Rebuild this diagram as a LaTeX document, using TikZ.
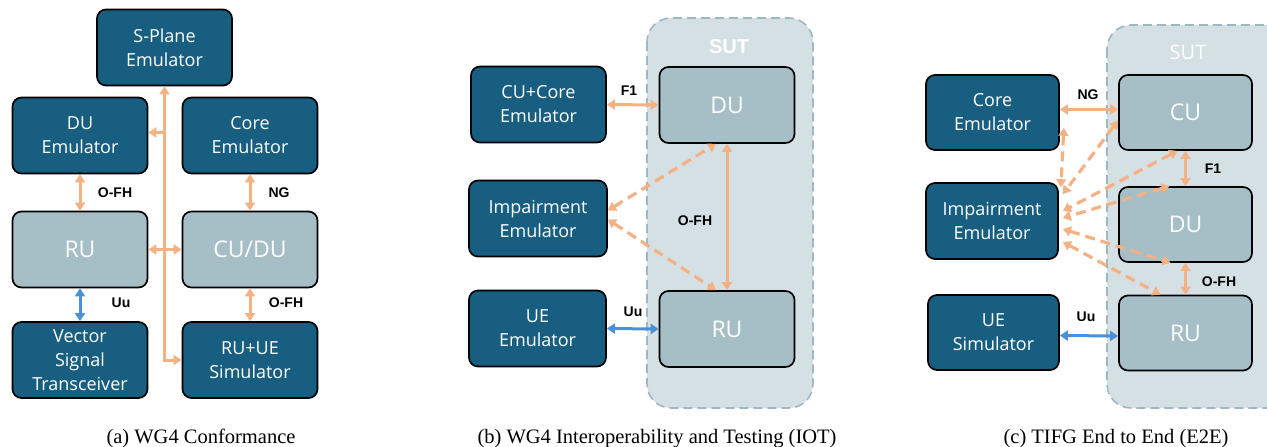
\documentclass[tikz,border=0pt]{standalone}
\usepackage{fontspec}
\newfontfamily\boxfont{Open Sans}
\newfontfamily\lblfont{Liberation Sans}
\newfontfamily\capfont{Liberation Serif}
\usetikzlibrary{arrows.meta}
\definecolor{emublue}{RGB}{23,94,128}
\definecolor{dutblue}{RGB}{166,190,198}
\definecolor{sutfill}{RGB}{213,224,229}
\definecolor{sutline}{RGB}{158,184,194}
\definecolor{linkorange}{RGB}{244,177,131}
\definecolor{uublue}{RGB}{74,144,217}
\begin{document}
\begin{tikzpicture}[x=1pt,y=-1pt,>={Triangle[length=8pt,width=10pt]},
    emu/.style={draw=black,line width=1.7pt,rounded corners=9pt,fill=emublue,text=white,
      align=center,minimum width=135pt,minimum height=76pt,inner sep=0pt,
      font=\boxfont\fontsize{18}{24}\selectfont},
    dut/.style={emu,fill=dutblue,font=\boxfont\fontsize{23}{28}\selectfont},
    sut/.style={draw=sutline,fill=sutfill,line width=1.6pt,dash pattern=on 9pt off 5pt,rounded corners=24pt},
    link/.style={draw=linkorange,line width=3pt,<->},
    dlink/.style={link,line width=3.2pt,dash pattern=on 10pt off 6pt},
    uu/.style={link,draw=uublue},
    lbl/.style={font=\lblfont\bfseries\fontsize{14}{16}\selectfont},
    subcap/.style={anchor=base,font=\capfont\fontsize{20.5}{24}\selectfont}]
  \useasboundingbox (0,0) rectangle (1267,447);
  % (a) WG4 conformance
  \node[emu] (splane) at (164.5,47.5) {S-Plane\\Emulator};
  \node[emu] (duemu) at (80,135.5) {DU\\Emulator};
  \node[emu] (coreemu) at (250,135.5) {Core\\Emulator};
  \node[dut] (rua) at (80,249.5) {RU};
  \node[dut] (cudu) at (250,249.5) {CU/DU};
  \node[emu] (vst) at (80,360) {Vector\\Signal\\Transceiver};
  \node[emu] (ruue) at (250,360) {RU+UE\\Simulator};
  \draw[link] (splane.south) |- (ruue.west);
  \draw[link,->] ([yshift=3pt]splane.south |- duemu.east) -- ([yshift=3pt]duemu.east);
  \draw[link] (rua.east) -- (cudu.west);
  \draw[link] (duemu.south) -- (rua.north);
  \draw[link] (coreemu.south) -- (cudu.north);
  \draw[uu] (rua.south) -- (vst.north);
  \draw[link] (cudu.south) -- (ruue.north);
  \node[lbl] (ofha) at (115,193) {O-FH};
  \node[lbl] (nga) at (279,193) {NG};
  \node[lbl] (uua) at (121,303) {Uu};
  \node[lbl] (ofhb) at (286,303) {O-FH};
  \node[subcap] (capa) at (201,443) {(a) WG4 Conformance};
  % (b) WG4 IOT
  \draw[sut] (647,18) rectangle (813,408);
  \node[text=white,font=\lblfont\bfseries\fontsize{20}{24}\selectfont] (sutb) at (729,47) {SUT};
  \node[dut] (dub) at (727,105) {DU};
  \node[dut] (rub) at (727,329) {RU};
  \node[emu] (cucore) at (538.5,104.5) {CU+Core\\Emulator};
  \node[emu,minimum width=138pt] (impb) at (538,218.5) {Impairment\\Emulator};
  \node[emu,minimum width=137pt] (ueb) at (537.5,328.5) {UE\\Emulator};
  \draw[link] (cucore.east) -- (dub.west);
  \draw[uu] (ueb.east) -- (rub.west);
  \draw[link] (dub.south) -- (rub.north);
  \draw[dlink] ([yshift=8pt]impb.east) -- ([xshift=-11pt]dub.south);
  \draw[dlink] ([yshift=-1pt]impb.east) -- ([xshift=-11pt]rub.north);
  \node[lbl] (f1b) at (629,91) {F1};
  \node[lbl] (uub) at (633,312) {Uu};
  \node[lbl] (ofhc) at (695,221) {O-FH};
  \node[subcap] (capb) at (657,443) {(b) WG4 Interoperability and Testing (IOT)};
  % (c) TIFG E2E
  \draw[sut] (1107,25) rectangle (1292,408);
  \node[text=white,font=\boxfont\fontsize{20}{24}\selectfont] (sutc) at (1188,52) {SUT};
  \node[dut,minimum width=133pt,minimum height=75pt] (cuc) at (1185.5,112.5) {CU};
  \node[dut,minimum width=133pt,minimum height=75pt] (duc) at (1185.5,224.5) {DU};
  \node[dut,minimum width=133pt,minimum height=75pt] (ruc) at (1185.5,333) {RU};
  \node[emu,minimum width=133pt,minimum height=75pt] (corec) at (992.5,112.5) {Core\\Emulator};
  \node[emu,minimum width=132pt] (impc) at (992,221) {Impairment\\Emulator};
  \node[emu,minimum width=131pt,minimum height=75pt] (uec) at (993.5,332.5) {UE\\Simulator};
  \draw[link] ([yshift=3pt]corec.east) -- ([yshift=3pt]cuc.west);
  \draw[link] (cuc.south) -- (duc.north);
  \draw[link] (duc.south) -- (ruc.north);
  \draw[uu] ([yshift=-3pt]uec.east) -- ([yshift=-3pt]ruc.west);
  \draw[dlink] ([xshift=4pt,yshift=23pt]corec.south east) -- ([xshift=2pt,yshift=-5pt]impc.north east);
  \draw[dlink] ([yshift=-8pt]cuc.west) -- ([xshift=4pt,yshift=-12pt]impc.north east);
  \draw[dlink] ([xshift=-8pt]cuc.south) -- ([xshift=4pt,yshift=10pt]impc.east);
  \draw[dlink] ([xshift=-16pt]duc.north) -- ([xshift=4pt,yshift=3pt]impc.east);
  \draw[dlink] ([xshift=4pt,yshift=-8pt]impc.east) -- ([xshift=-15pt]duc.south);
  \draw[dlink] ([xshift=4pt,yshift=-21pt]impc.east) -- ([xshift=-25pt]ruc.north);
  \node[lbl] (ngc) at (1088,95) {NG};
  \node[lbl] (f1c) at (1213,169) {F1};
  \node[lbl] (ofhd) at (1219,282) {O-FH};
  \node[lbl] (uuc) at (1086,317) {Uu};
  \node[subcap] (capc) at (1116,443) {(c) TIFG End to End (E2E)};
\end{tikzpicture}
\end{document}
